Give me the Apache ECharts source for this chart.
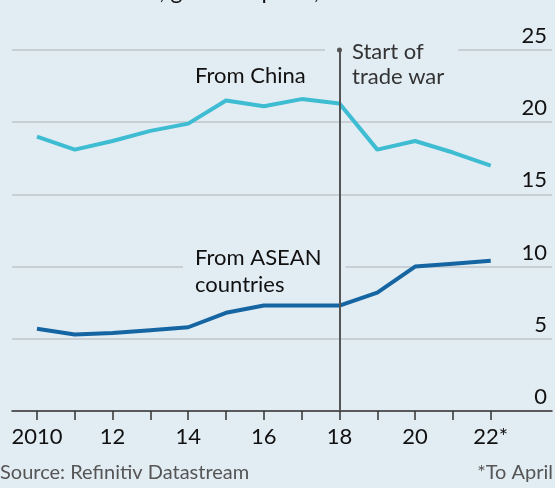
<!DOCTYPE html>
<html>
<head>
<meta charset="utf-8">
<script src="https://cdn.jsdelivr.net/npm/echarts@6/dist/echarts.min.js"></script>
<style>
  html, body { margin: 0; padding: 0; background: #e2ecf3; }
  #chart { width: 555px; height: 488px; }
</style>
</head>
<body>
<div id="chart"></div>
<script>
// US goods imports, % of total
const years = [2010, 2011, 2012, 2013, 2014, 2015, 2016, 2017, 2018, 2019, 2020, 2021, 2022];
const fromChina = [19.0, 18.1, 18.7, 19.4, 19.9, 21.5, 21.1, 21.6, 21.3, 18.1, 18.7, 17.9, 17.0];
const fromAsean = [5.7, 5.3, 5.4, 5.6, 5.8, 6.8, 7.3, 7.3, 7.3, 8.2, 10.0, 10.2, 10.4];
const tickYears = [2010, 2011, 2012, 2013, 2014, 2015, 2016, 2017, 2018, 2019, 2020, 2021, 2022];
const labelYears = [2010, 2012, 2014, 2016, 2018, 2020, 2022];
const tradeWarYear = 2018;

const FONT = 'Lato, sans-serif';
const BG = '#e2ecf3';

const chart = echarts.init(document.getElementById('chart'), null, { renderer: 'canvas' });

function pairs(vals) {
  return years.map((y, i) => [y, vals[i]]);
}

chart.setOption({
  backgroundColor: BG,
  animation: false,
  textStyle: { fontFamily: FONT },
  grid: { left: 12, right: 3, top: 50, bottom: 77 },
  xAxis: {
    type: 'value',
    min: 2009.34,
    max: 2023.62,
    splitLine: { show: false },
    axisLine: { show: true, lineStyle: { color: '#333', width: 1.5 } },
    axisTick: {
      show: true, inside: false, length: 9,
      customValues: tickYears,
      lineStyle: { color: '#333', width: 1.5 }
    },
    axisLabel: {
      customValues: labelYears,
      margin: 15,
      fontSize: 22,
      color: '#111',
      fontFamily: FONT,
      formatter: v => v === 2010 ? '2010' : (v === 2022 ? '22*' : String(v).slice(2))
    }
  },
  yAxis: {
    type: 'value',
    position: 'right',
    min: 0,
    max: 25,
    interval: 5,
    axisLine: { show: false },
    axisTick: { show: false },
    splitLine: { lineStyle: { color: '#bfc7cd', width: 1.5 } },
    axisLabel: {
      inside: true,
      margin: 5,
      fontSize: 22,
      color: '#111',
      fontFamily: FONT,
      verticalAlign: 'bottom',
      padding: [0, 0, 3, 0]
    }
  },
  series: [
    {
      name: 'From China',
      type: 'line',
      data: pairs(fromChina),
      symbol: 'none',
      lineStyle: { color: '#3ebcd2', width: 4 },
      z: 3
    },
    {
      name: 'From ASEAN countries',
      type: 'line',
      data: pairs(fromAsean),
      symbol: 'none',
      lineStyle: { color: '#1565a3', width: 4 },
      z: 3,
      markLine: {
        silent: true,
        symbol: ['none', 'circle'],
        symbolSize: 5,
        label: { show: false },
        lineStyle: { color: '#555', width: 2, type: 'solid' },
        data: [{ xAxis: tradeWarYear }],
        z: 5
      }
    }
  ],
  graphic: [
    {
      type: 'text', left: 130, top: -20, z: 10,
      style: { text: 'US, goods imports, % of total', font: '23px ' + FONT, fill: '#111' }
    },
    {
      type: 'text', left: 325, top: 37, z: 2,
      style: {
        text: 'Start of\ntrade war', font: '22px ' + FONT, fill: '#333', lineHeight: 25,
        backgroundColor: BG, padding: [2, 14, 2, 27]
      }
    },
    {
      type: 'text', left: 195, top: 65, z: 10,
      style: { text: 'From China', font: '22px ' + FONT, fill: '#111' }
    },
    {
      type: 'text', left: 183, top: 242, z: 2,
      style: {
        text: 'From ASEAN\ncountries', font: '22px ' + FONT, fill: '#111', lineHeight: 27,
        backgroundColor: BG, padding: [2, 24, 2, 12]
      }
    },
    {
      type: 'text', left: 0, top: 463,
      style: { text: 'Source: Refinitiv Datastream', font: '20px ' + FONT, fill: '#555' }
    },
    {
      type: 'text', right: 2, top: 463,
      style: { text: '*To April', font: '20px ' + FONT, fill: '#555' }
    }
  ]
});
</script>
</body>
</html>
